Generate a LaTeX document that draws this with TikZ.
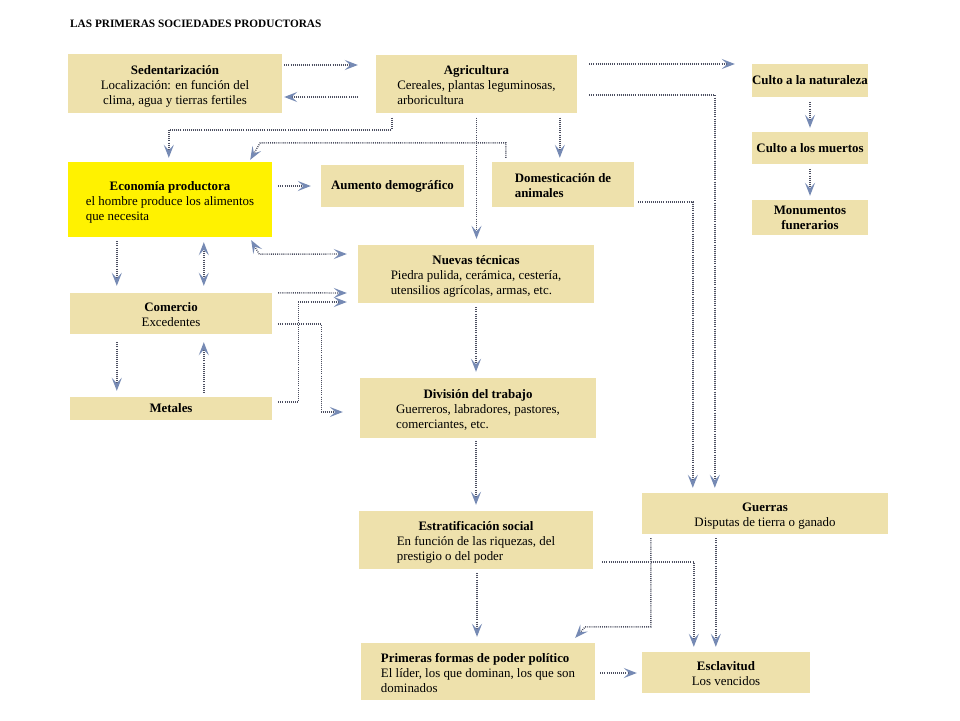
\documentclass[tikz,border=0pt]{standalone}
\usepackage{fontspec}
\setmainfont{Liberation Serif}
\usetikzlibrary{arrows.meta,calc}
\definecolor{boxfill}{RGB}{238,225,172}
\definecolor{ecofill}{RGB}{255,242,0}
\definecolor{linecol}{RGB}{75,78,96}
\definecolor{tipcol}{RGB}{118,138,180}
\renewcommand{\arraystretch}{1}
\newcommand{\bxl}[2]{\raisebox{-2.5pt}[\height][\depth]{\begin{tabular}{@{}l@{}}\multicolumn{1}{@{}c@{}}{\textbf{#1}}\\#2\end{tabular}}}
\newcommand{\bxc}[2]{\raisebox{-2.5pt}[\height][\depth]{\begin{tabular}{@{}c@{}}\textbf{#1}\\#2\end{tabular}}}
\newcommand{\bxp}[1]{\raisebox{-2.5pt}[\height][\depth]{\begin{tabular}{@{}l@{}}#1\end{tabular}}}
\newcommand{\bxq}[1]{\raisebox{-1pt}[\height][\depth]{\begin{tabular}{@{}c@{}}#1\end{tabular}}}
\tikzset{
  box/.style={fill=boxfill, draw=none, inner sep=0pt, font=\fontsize{12.9}{15}\selectfont},
  conn/.style={line width=1.4pt, linecol, dash pattern=on 0.9pt off 1.2pt},
  arr/.style={conn, -{Stealth[length=13pt,width=10pt,inset=5.5pt,color=tipcol,fill=tipcol]}},
  darr/.style={conn, {Stealth[length=13pt,width=10pt,inset=5.5pt,color=tipcol,fill=tipcol]}-{Stealth[length=13pt,width=10pt,inset=5.5pt,color=tipcol,fill=tipcol]}},
}
\begin{document}
\begin{tikzpicture}[x=1pt,y=-1pt]
\useasboundingbox (0,0) rectangle (960,720);
\fill[white] (0,0) rectangle (960,720);

\node[anchor=base west, inner sep=0pt, font=\fontsize{11.3}{13}\selectfont\bfseries] (title) at (70,27.5) {LAS PRIMERAS SOCIEDADES PRODUCTORAS};

\node[box, minimum width=214pt, minimum height=59pt] (sed) at (175,83.5) {\bxc{Sedentarización}{Localización: en función del\\clima, agua y tierras fertiles}};
\node[box, minimum width=201pt, minimum height=58pt] (agr) at (476.5,83.5) {\bxl{Agricultura}{Cereales, plantas leguminosas,\\arboricultura}};
\node[box, minimum width=116pt, minimum height=33pt] (cnat) at (810,80.5) {\textbf{Culto a la naturaleza}};
\node[box, minimum width=116pt, minimum height=32pt] (cmue) at (810,148) {\textbf{Culto a los muertos}};
\node[box, minimum width=116pt, minimum height=35pt] (mon) at (810,217.5) {\bxq{\textbf{Monumentos}\\\textbf{funerarios}}};
\node[box, fill=ecofill, minimum width=204pt, minimum height=75pt] (eco) at (170,199.5) {\bxl{Economía productora}{el hombre produce los alimentos\\que necesita}};
\node[box, minimum width=143pt, minimum height=42pt] (aum) at (392.5,186) {\textbf{Aumento demográfico}};
\node[box, minimum width=142pt, minimum height=45pt] (dom) at (563,184.5) {\bxp{\textbf{Domesticación de}\\\textbf{animales}}};
\node[box, minimum width=236pt, minimum height=58pt] (nue) at (476,274) {\bxl{Nuevas técnicas}{Piedra pulida, cerámica, cestería,\\utensilios agrícolas, armas, etc.}};
\node[box, minimum width=202pt, minimum height=41pt] (com) at (171,313.5) {\bxl{Comercio}{Excedentes}};
\node[box, minimum width=202pt, minimum height=23pt] (met) at (171,408.5) {\textbf{Metales}};
\node[box, minimum width=236pt, minimum height=60pt] (div) at (478,408) {\bxl{División del trabajo}{Guerreros, labradores, pastores,\\comerciantes, etc.}};
\node[box, minimum width=234pt, minimum height=58pt] (est) at (476,540) {\bxl{Estratificación social}{En función de las riquezas, del\\prestigio o del poder}};
\node[box, minimum width=234pt, minimum height=57pt] (pri) at (478,671.5) {\bxp{\textbf{Primeras formas de poder político}\\El líder, los que dominan, los que son\\dominados}};
\node[box, minimum width=246pt, minimum height=41pt] (gue) at (765,513.5) {\bxc{Guerras}{Disputas de tierra o ganado}};
\node[box, minimum width=168pt, minimum height=41pt] (esc) at (726,672.5) {\bxc{Esclavitud}{Los vencidos}};

% top row
\draw[arr] ($(sed.east|-0,65)+(2,0)$) -- ($(agr.west|-0,65)+(-18,0)$);
\draw[arr] ($(agr.west|-0,97)+(-18,0)$) -- ($(sed.east|-0,97)+(2,0)$);
\draw[arr] ($(agr.east|-0,64)+(12,0)$) -- ($(cnat.west|-0,64)+(-17,0)$);
\draw[arr] ($(agr.east|-0,95)+(12,0)$) -| ($(gue.north west)+(73,-5)$);
\draw[arr] ($(dom.east|-0,202)+(4,0)$) -| ($(gue.north west)+(51,-5)$);
\draw[arr] ($(cnat.south)+(0,5)$) -- ($(cmue.north)+(0,-4)$);
\draw[arr] ($(cmue.south)+(0,5)$) -- ($(mon.north)+(0,-4)$);
\draw[arr] ($(agr.south west)+(184,5)$) -- ($(dom.north west)+(68,-4)$);
\draw[arr] ($(agr.south west)+(16,5)$) |- ($(eco.north west)+(101,-32)$) -- ($(eco.north west)+(101,-4)$);
\draw[arr] ($(agr.south)+(0,5)$) -- ($(agr.south|-nue.north)+(0,-6)$);
\draw[arr] ($(dom.north west)+(14,-4)$) -- ($(dom.north west)+(14,-19)$) -- ($(eco.north east)+(-12,-19)$) -- ($(eco.north east)+(-22,-2)$);

% middle left
\draw[arr] ($(eco.east|-aum.west)+(6,0)$) -- ($(aum.west)+(-10,0)$);
\draw[darr] ($(eco.south east)+(-21,3)$) -- ($(eco.south east)+(-13,17)$) -- ($(nue.west|-0,254)+(-11,0)$);
\draw[arr] ($(eco.south west)+(49,4)$) -- ($(com.north west)+(47,-7)$);
\draw[darr] ($(eco.south west)+(136,5)$) -- ($(com.north west)+(134,-7)$);
\draw[arr] ($(com.south west)+(47,8)$) -- ($(met.north west)+(47,-6)$);
\draw[arr] ($(met.north west)+(134,-4)$) -- ($(com.south west)+(134,8)$);
\draw[arr] ($(com.north east)+(6,0)$) -- ($(nue.west|-0,293)+(-11,0)$);
\draw[arr] ($(met.east)+(6,-6.5)$) -- ++(20,0) |- ($(nue.west|-0,302)+(-11,0)$);
\draw[arr] ($(com.east)+(6,10.5)$) -- ++(43,0) |- ($(div.west|-0,412)+(-17,0)$);

% centre column
\draw[arr] ($(nue.south)+(0,4)$) -- ($(nue.south|-div.north)+(0,-6)$);
\draw[arr] ($(div.south)+(-2,3)$) -- ($(div.south|-est.north)+(-2,-6)$);
\draw[arr] ($(est.south)+(1,4)$) -- ($(est.south|-pri.north)+(1,-6)$);
\draw[arr] ($(pri.east|-0,673)+(5,0)$) -- ($(esc.west|-0,673)+(-5,0)$);

% bottom right
\draw[arr] ($(gue.south west)+(9,4)$) |- ($(pri.north east)+(-10,-16)$) -- ($(pri.north east)+(-20,-5)$);
\draw[arr] ($(est.east|-0,562)+(9,0)$) -| ($(esc.north west)+(52,-5)$);
\draw[arr] ($(gue.south west)+(74,4)$) -- ($(esc.north west)+(74,-5)$);
\end{tikzpicture}
\end{document}
